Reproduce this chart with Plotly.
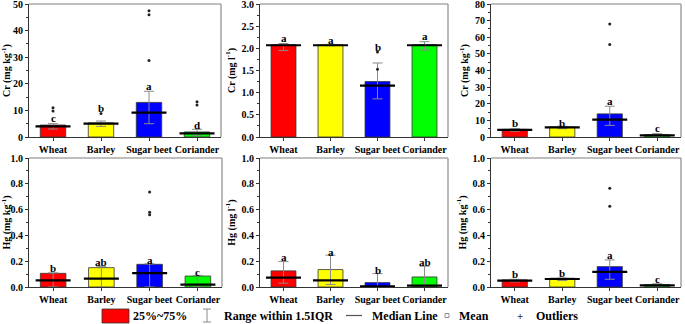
import plotly.graph_objects as go

categories = ["Wheat", "Barley", "Sugar beet", "Coriander"]
bar_colors = ["#FF0000", "#FFFF00", "#0000FF", "#00FF00"]

# Panel 1: Cr (mg kg-1)
cr1_q75 = [4.5, 5.3, 13.0, 1.9]
cr1_median = [4.0, 5.0, 9.2, 1.4]
cr1_whisk_hi = [5.0, 6.0, 17.2, 2.9]
cr1_whisk_lo = [3.0, 4.0, 5.0, 0.5]
cr1_out_cat = ["Wheat", "Wheat", "Barley", "Sugar beet", "Sugar beet", "Sugar beet", "Coriander", "Coriander"]
cr1_out_val = [9.8, 11.0, 8.8, 28.8, 46.0, 47.5, 12.0, 13.3]
cr1_letters = ["c", "b", "a", "d"]
cr1_letter_y = [7.3, 11.0, 19.2, 4.5]

# Panel 2: Cr (mg l-1)
cr2_q75 = [2.08, 2.08, 1.25, 2.08]
cr2_median = [2.07, 2.07, 1.16, 2.07]
cr2_whisk_hi = [2.11, 2.09, 1.67, 2.15]
cr2_whisk_lo = [1.95, 2.06, 0.86, 1.96]
cr2_out_cat = ["Sugar beet", "Sugar beet"]
cr2_out_val = [1.53, 1.92]
cr2_letters = ["a", "a", "b", "a"]
cr2_letter_y = [2.24, 2.19, 2.03, 2.28]

# Panel 3: Cr (mg kg-1)
cr3_q75 = [4.6, 6.0, 13.9, 1.4]
cr3_median = [4.3, 5.8, 10.5, 1.0]
cr3_whisk_hi = [5.0, 6.5, 18.5, 2.0]
cr3_whisk_lo = [3.5, 5.0, 7.0, 0.5]
cr3_out_cat = ["Sugar beet", "Sugar beet"]
cr3_out_val = [55.7, 68.0]
cr3_letters = ["b", "b", "a", "c"]
cr3_letter_y = [8.4, 8.6, 21.5, 5.4]

# Panel 4: Hg (mg kg-1)
hg4_q75 = [0.106, 0.150, 0.176, 0.085]
hg4_median = [0.052, 0.065, 0.108, 0.018]
hg4_whisk_hi = [0.11, 0.16, 0.18, 0.09]
hg4_whisk_lo = [0.0, 0.0, 0.0, 0.0]
hg4_out_cat = ["Sugar beet", "Sugar beet", "Sugar beet"]
hg4_out_val = [0.56, 0.58, 0.736]
hg4_letters = ["b", "ab", "a", "c"]
hg4_letter_y = [0.147, 0.19, 0.21, 0.12]

# Panel 5: Hg (mg l-1)
hg5_q75 = [0.125, 0.135, 0.034, 0.078]
hg5_median = [0.073, 0.052, 0.005, 0.010]
hg5_whisk_hi = [0.197, 0.247, 0.104, 0.161]
hg5_whisk_lo = [0.03, 0.02, 0.0, 0.0]
hg5_out_cat = []
hg5_out_val = []
hg5_letters = ["a", "a", "b", "ab"]
hg5_letter_y = [0.236, 0.275, 0.13, 0.197]

# Panel 6: Hg (mg kg-1)
hg6_q75 = [0.055, 0.068, 0.158, 0.018]
hg6_median = [0.050, 0.062, 0.117, 0.012]
hg6_whisk_hi = [0.06, 0.07, 0.21, 0.025]
hg6_whisk_lo = [0.04, 0.05, 0.06, 0.0]
hg6_out_cat = ["Sugar beet", "Sugar beet"]
hg6_out_val = [0.626, 0.766]
hg6_letters = ["b", "b", "a", "c"]
hg6_letter_y = [0.10, 0.11, 0.25, 0.06]

y_titles = ["Cr (mg kg<sup>-1</sup>)", "Cr (mg l<sup>-1</sup>)", "Cr (mg kg<sup>-1</sup>)",
            "Hg (mg kg<sup>-1</sup>)", "Hg (mg l<sup>-1</sup>)", "Hg (mg kg<sup>-1</sup>)"]
y_max = [50, 3.0, 80, 1.0, 1.0, 1.0]
y_dtick = [10, 0.5, 10, 0.2, 0.2, 0.2]
y_format = ["d", ".1f", "d", ".1f", ".1f", ".1f"]

panels = [
    (cr1_q75, cr1_median, cr1_whisk_hi, cr1_whisk_lo, cr1_out_cat, cr1_out_val, cr1_letters, cr1_letter_y),
    (cr2_q75, cr2_median, cr2_whisk_hi, cr2_whisk_lo, cr2_out_cat, cr2_out_val, cr2_letters, cr2_letter_y),
    (cr3_q75, cr3_median, cr3_whisk_hi, cr3_whisk_lo, cr3_out_cat, cr3_out_val, cr3_letters, cr3_letter_y),
    (hg4_q75, hg4_median, hg4_whisk_hi, hg4_whisk_lo, hg4_out_cat, hg4_out_val, hg4_letters, hg4_letter_y),
    (hg5_q75, hg5_median, hg5_whisk_hi, hg5_whisk_lo, hg5_out_cat, hg5_out_val, hg5_letters, hg5_letter_y),
    (hg6_q75, hg6_median, hg6_whisk_hi, hg6_whisk_lo, hg6_out_cat, hg6_out_val, hg6_letters, hg6_letter_y),
]

W, H = 685, 324
# panel boxes in pixels: (left, right, top, bottom)
boxes = [(29, 221, 4, 137), (260, 448, 4, 137), (491, 681, 4, 137),
         (29, 222, 158, 287), (260, 448, 158, 287), (491, 681, 158, 287)]

FONT = "Liberation Serif"
fig = go.Figure()
layout = dict()
annotations = []
shapes = []

for i, (q75, med, whi, wlo, ocat, oval, letters, ly) in enumerate(panels):
    n = i + 1
    xa = "x" if n == 1 else f"x{n}"
    ya = "y" if n == 1 else f"y{n}"
    fig.add_trace(go.Bar(
        x=categories, y=q75, xaxis=xa, yaxis=ya, width=0.53,
        marker=dict(color=bar_colors, line=dict(color="#333333", width=0.8)),
        error_y=dict(type="data", symmetric=False,
                     array=[h - q for h, q in zip(whi, q75)],
                     arrayminus=[q - l for q, l in zip(q75, wlo)],
                     color="#8a8a8a", thickness=1, width=5),
        showlegend=False, hoverinfo="skip"))
    fig.add_trace(go.Scatter(
        x=categories, y=med, xaxis=xa, yaxis=ya, mode="markers",
        marker=dict(symbol="line-ew", size=25, line=dict(color="black", width=2.2)),
        showlegend=False, hoverinfo="skip"))
    if ocat:
        fig.add_trace(go.Scatter(
            x=ocat, y=oval, xaxis=xa, yaxis=ya, mode="markers",
            marker=dict(symbol="circle", size=3, color="#222222"),
            showlegend=False, hoverinfo="skip"))
    for c, t, yv in zip(categories, letters, ly):
        annotations.append(dict(x=c, y=yv, xref=xa, yref=ya, text=t, showarrow=False,
                                yanchor="middle", font=dict(family=FONT, size=11, color="black", weight="bold")))
    l, r, t, b = boxes[i]
    xkey = "xaxis" if n == 1 else f"xaxis{n}"
    ykey = "yaxis" if n == 1 else f"yaxis{n}"
    layout[xkey] = dict(domain=[l / W, r / W], anchor=ya, type="category",
                        categoryorder="array", categoryarray=categories, range=[-0.5, 3.5],
                        showline=True, linecolor="#333333", linewidth=1, mirror=False,
                        ticks="outside", ticklen=3, tickcolor="#333333", showgrid=False, zeroline=False,
                        tickangle=0, automargin=False, ticklabeloverflow="allow",
                        tickfont=dict(family=FONT, size=10, color="black", weight="bold"))
    layout[ykey] = dict(domain=[1 - b / H, 1 - t / H], anchor=xa, range=[0, y_max[i] * 1.0001],
                        tickmode="linear", tick0=0, dtick=y_dtick[i], tickformat=y_format[i],
                        showline=True, linecolor="#333333", linewidth=1, mirror=False,
                        ticks="outside", ticklen=3, tickcolor="#333333", showgrid=False, zeroline=False,
                        automargin=False, ticklabeloverflow="allow",
                        minor=dict(ticks="outside", ticklen=2, dtick=y_dtick[i] / 2, tickcolor="#333333"),
                        tickfont=dict(family=FONT, size=10, color="black", weight="bold"),
                        title=dict(text=y_titles[i], standoff=4,
                                   font=dict(family=FONT, size=10, color="black", weight="bold")))
    xd = f"{xa} domain"
    yd = f"{ya} domain"
    shapes.append(dict(type="line", xref=xd, yref=yd, x0=0, x1=1, y0=1, y1=1,
                       line=dict(color="#a8a8a8", width=1.6)))
    shapes.append(dict(type="line", xref=xd, yref=yd, x0=1, x1=1, y0=0, y1=1,
                       line=dict(color="#a8a8a8", width=1.6)))

# manual legend along the bottom
ly_c = 1 - 315.5 / H
def px(x):
    return x / W
def py(y):
    return 1 - y / H

shapes.append(dict(type="rect", xref="paper", yref="paper", x0=px(102), x1=px(129), y0=py(323), y1=py(309),
                   fillcolor="#FF0000", line=dict(color="#333333", width=0.8)))
shapes.append(dict(type="line", xref="paper", yref="paper", x0=px(207), x1=px(207), y0=py(322), y1=py(309),
                   line=dict(color="#8a8a8a", width=1)))
shapes.append(dict(type="line", xref="paper", yref="paper", x0=px(203), x1=px(211), y0=py(322), y1=py(322),
                   line=dict(color="#8a8a8a", width=1)))
shapes.append(dict(type="line", xref="paper", yref="paper", x0=px(203), x1=px(211), y0=py(309), y1=py(309),
                   line=dict(color="#8a8a8a", width=1)))
shapes.append(dict(type="line", xref="paper", yref="paper", x0=px(346), x1=px(362), y0=py(315.5), y1=py(315.5),
                   line=dict(color="#555555", width=1.2)))
shapes.append(dict(type="rect", xref="paper", yref="paper", x0=px(445), x1=px(449), y0=py(317.5), y1=py(313.5),
                   line=dict(color="#777777", width=0.8)))

legend_items = [("25%~75%", 131), ("Range within 1.5IQR", 222), ("Median Line", 370),
                ("Mean", 457), ("Outliers", 534)]
for txt, x0 in legend_items:
    annotations.append(dict(x=px(x0), y=ly_c, xref="paper", yref="paper", text=txt, showarrow=False,
                            xanchor="left", yanchor="middle",
                            font=dict(family=FONT, size=12, color="black", weight="bold")))
annotations.append(dict(x=px(520), y=ly_c, xref="paper", yref="paper", text="+", showarrow=False,
                        xanchor="center", yanchor="middle",
                        font=dict(family=FONT, size=11, color="#333333", weight="bold")))

fig.update_layout(width=W, height=H, autosize=False, margin=dict(l=0, r=0, t=0, b=0),
                  plot_bgcolor="white", paper_bgcolor="white", barmode="overlay",
                  annotations=annotations, shapes=shapes, showlegend=False, **layout)

fig.write_html("out.html", config={"displayModeBar": False},
               post_script="document.body.style.margin='0px';document.body.style.overflow='hidden';")
